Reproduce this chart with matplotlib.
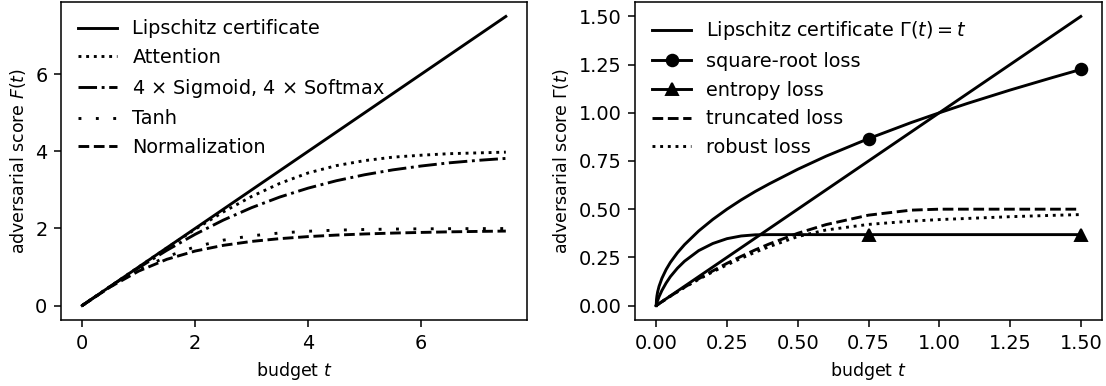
import matplotlib
matplotlib.use("Agg")
import matplotlib.pyplot as plt

# ---- left panel data ----
t_left = [0, 0.5, 1, 1.5, 2, 2.5, 3, 3.5, 4, 4.5, 5, 5.5, 6, 6.5, 7, 7.5]
lipschitz_left = [0, 0.5, 1, 1.5, 2, 2.5, 3, 3.5, 4, 4.5, 5, 5.5, 6, 6.5, 7, 7.5]
attention = [0, 0.5, 1.0, 1.495, 1.98, 2.43, 2.83, 3.17, 3.44, 3.63, 3.76, 3.85, 3.90, 3.94, 3.96, 3.98]
sigmoid_softmax = [0, 0.497, 0.980, 1.434, 1.848, 2.218, 2.540, 2.816, 3.046, 3.238, 3.393, 3.520, 3.620, 3.703, 3.766, 3.817]
tanh_vals = [0, 0.490, 0.924, 1.270, 1.523, 1.697, 1.810, 1.883, 1.928, 1.956, 1.973, 1.984, 1.990, 1.994, 1.996, 1.998]
normalization = [0, 0.485, 0.894, 1.200, 1.414, 1.562, 1.664, 1.736, 1.789, 1.828, 1.857, 1.880, 1.897, 1.912, 1.923, 1.932]
left_labels = ["Lipschitz certificate", "Attention", r"4 $\times$ Sigmoid, 4 $\times$ Softmax", "Tanh", "Normalization"]

# ---- right panel data ----
t_right = [0, 0.001, 0.0025, 0.005, 0.01, 0.02, 0.035, 0.05, 0.075, 0.1, 0.15, 0.2, 0.25,
           0.3, 0.35, 0.4, 0.5, 0.6, 0.75, 0.9, 1.0, 1.1, 1.25, 1.4, 1.5]
lipschitz_right = t_right
sqrt_loss = [0, 0.032, 0.050, 0.071, 0.100, 0.141, 0.187, 0.224, 0.274, 0.316, 0.387, 0.447, 0.500,
             0.548, 0.592, 0.632, 0.707, 0.775, 0.866, 0.949, 1.000, 1.049, 1.118, 1.183, 1.225]
entropy_loss = [0, 0.007, 0.015, 0.026, 0.046, 0.078, 0.117, 0.150, 0.194, 0.230, 0.285, 0.322, 0.347,
                0.361, 0.367, 0.368, 0.368, 0.368, 0.368, 0.368, 0.368, 0.368, 0.368, 0.368, 0.368]
truncated_loss = [0, 0.001, 0.0025, 0.005, 0.010, 0.0198, 0.0344, 0.0488, 0.0722, 0.095, 0.139, 0.180, 0.219,
                  0.255, 0.289, 0.320, 0.375, 0.420, 0.469, 0.495, 0.500, 0.500, 0.500, 0.500, 0.500]
robust_loss = [0, 0.001, 0.0025, 0.005, 0.010, 0.0198, 0.0343, 0.0485, 0.0715, 0.094, 0.136, 0.175, 0.211,
               0.245, 0.277, 0.306, 0.358, 0.392, 0.421, 0.438, 0.446, 0.452, 0.461, 0.468, 0.472]
right_labels = [r"Lipschitz certificate $\Gamma(t) = t$", "square-root loss", "entropy loss",
                "truncated loss", "robust loss"]
marker_t = [0.75, 1.5]
right_xticks = [0, 0.25, 0.5, 0.75, 1.0, 1.25, 1.5]
right_yticks = [0, 0.25, 0.5, 0.75, 1.0, 1.25, 1.5]

DPI = 139
fig = plt.figure(figsize=(1106 / DPI, 386 / DPI), dpi=DPI)
ax1 = fig.add_axes([61 / 1106, 1 - 320 / 386, (527 - 61) / 1106, 318 / 386])
ax2 = fig.add_axes([635 / 1106, 1 - 320 / 386, (1102 - 635) / 1106, 318 / 386])

k = dict(color="black", lw=1.5)
ax1.plot(t_left, lipschitz_left, "-", label=left_labels[0], **k)
ax1.plot(t_left, attention, ":", label=left_labels[1], **k)
ax1.plot(t_left, sigmoid_softmax, "-.", label=left_labels[2], **k)
ax1.plot(t_left, tanh_vals, linestyle=(0, (1, 5)), label=left_labels[3], **k)
ax1.plot(t_left, normalization, "--", label=left_labels[4], **k)
ax1.set_xlabel(r"budget $t$", fontsize=9)
ax1.set_ylabel(r"adversarial score $F(t)$", fontsize=9)
ax1.legend(loc="upper left", frameon=False)

mi = [t_right.index(v) for v in marker_t]
ax2.plot(t_right, lipschitz_right, "-", label=right_labels[0], **k)
ax2.plot(t_right, sqrt_loss, "-", marker="o", markersize=6, markevery=mi, label=right_labels[1], **k)
ax2.plot(t_right, entropy_loss, "-", marker="^", markersize=6, markevery=mi, label=right_labels[2], **k)
ax2.plot(t_right, truncated_loss, "--", label=right_labels[3], **k)
ax2.plot(t_right, robust_loss, ":", label=right_labels[4], **k)
ax2.set_xticks(right_xticks)
ax2.set_yticks(right_yticks)
ax2.xaxis.set_major_formatter(matplotlib.ticker.FormatStrFormatter("%.2f"))
ax2.yaxis.set_major_formatter(matplotlib.ticker.FormatStrFormatter("%.2f"))
ax2.set_xlabel(r"budget $t$", fontsize=9)
ax2.set_ylabel(r"adversarial score $\Gamma(t)$", fontsize=9)
ax2.legend(loc="upper left", frameon=False)

fig.savefig("out.png", dpi=DPI)
